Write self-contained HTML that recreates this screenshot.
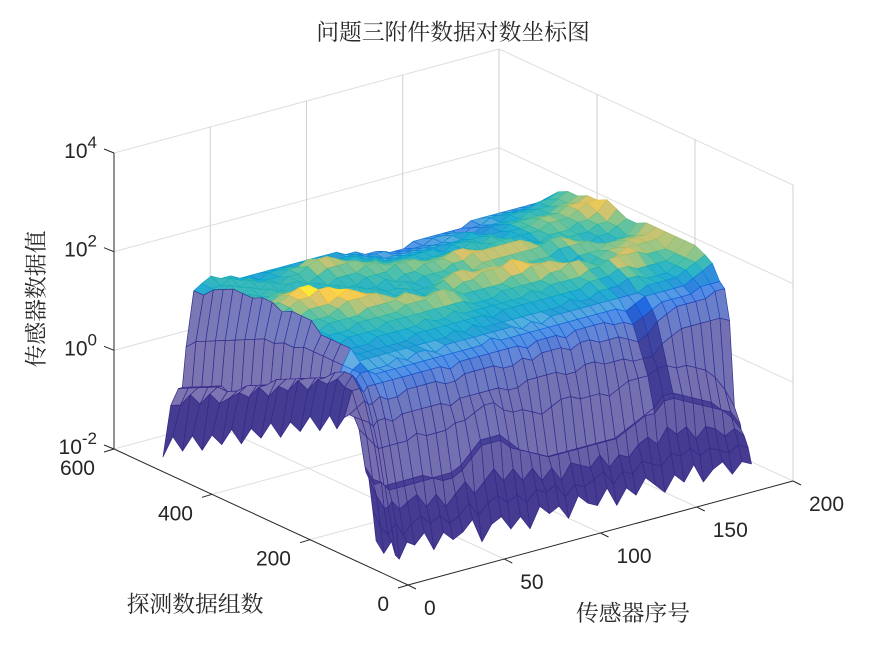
<!DOCTYPE html>
<html lang="zh">
<head>
<meta charset="utf-8">
<title>问题三附件数据对数坐标图</title>
<style>
html,body{margin:0;padding:0;background:#fff;}
svg{display:block;}
text{font-family:"Liberation Sans","Noto Sans CJK SC",sans-serif;fill:#262626;}
.cjk{font-family:"Noto Serif CJK SC","Noto Sans CJK SC",serif;font-size:22.8px;fill:#2a2a2a;}
</style>
</head>
<body>
<svg id="chart" width="875" height="656" viewBox="0 0 875 656" xmlns="http://www.w3.org/2000/svg">
<rect width="875" height="656" fill="#fff"/>
<g id="grid" fill="none" stroke-width="1"></g>
<g id="surface"></g>
<g id="axes" fill="none" stroke="#262626" stroke-width="1"></g>
<g id="labels" font-size="21"></g>
<text class="cjk" x="453" y="40" text-anchor="middle">问题三附件数据对数坐标图</text>
<text class="cjk" x="633" y="621" text-anchor="middle">传感器序号</text>
<text class="cjk" x="195" y="612" text-anchor="middle">探测数据组数</text>
<text class="cjk" x="0" y="0" text-anchor="middle" transform="translate(44,299) rotate(-90)">传感器数据值</text>
</svg>
<script>
// Chart data.
const sensors = [0,4,8,10,12,16,20,25,30,35,40,45,50,55,60,65,70,75,80,85,90,95,100,105,110,115,120,125,130,135,140,145,150,155,160,165,170,175,180,185,190,195];
const groups = [500,480,460,440,420,400,380,360,340,320,300,280,260,240,220,200,180,160,145,130,120,110,100,88,86,80,72,65];
// log10(value) x 10, one row per detection group, one column per sensor
const logZTenths = [
[-17,-7,-4,-4,4,15,16,17,16,16,15,15,15,15,15,15,15,15,15,15,15,14,14,13,13,12,12,12,13,13,13,13,13,13,14,14,14,14,14,14,14,14],
[-12,-6,-3,-3,6,15,16,16,17,16,16,15,16,16,16,15,16,16,16,15,15,15,14,14,14,13,13,13,13,14,14,14,13,14,14,15,15,15,15,15,15,16],
[-14,-3,-2,-2,7,17,16,17,16,17,16,16,16,17,17,18,17,16,16,16,16,15,15,14,14,14,14,14,14,14,15,15,14,15,15,15,16,16,16,17,17,18],
[-10,-4,-1,-1,8,18,17,16,17,16,17,16,17,17,18,19,19,18,17,16,16,16,15,15,15,15,15,15,15,15,15,16,15,16,16,16,16,17,17,17,18,19],
[-12,-1,0,0,9,19,16,17,16,17,16,17,17,16,17,18,18,18,18,17,17,16,16,16,16,16,16,15,16,16,16,16,16,16,17,17,17,17,17,18,18,19],
[-8,-2,0,-1,10,19,17,16,17,17,17,16,16,17,16,17,17,17,18,18,17,17,17,16,16,16,16,16,16,17,16,17,16,17,17,17,18,18,18,19,19,20],
[-9,0,1,0,11,19,17,17,18,18,17,17,16,16,17,16,16,17,17,17,18,18,18,17,17,17,16,17,17,16,17,17,17,17,17,17,18,18,18,19,20,20],
[-5,2,3,2,12,20,17,18,19,20,20,18,17,17,16,17,16,16,17,16,17,17,18,18,18,19,19,18,17,17,17,17,17,17,16,17,17,17,18,18,19,21],
[-7,2,4,3,13,20,17,18,19,19,20,20,19,18,17,16,17,16,16,17,16,17,17,17,18,18,19,19,19,19,19,19,18,17,17,16,17,17,17,18,18,20],
[-3,5,5,4,13,19,16,17,18,18,18,19,20,19,18,17,16,16,17,16,16,16,17,17,16,17,18,18,18,18,18,18,18,19,19,18,17,16,17,17,18,19],
[-4,4,7,6,14,20,16,17,17,17,18,19,19,19,19,18,17,17,16,16,17,18,19,19,18,18,18,17,17,17,17,17,17,18,18,18,18,17,16,17,17,19],
[0,7,8,7,14,20,16,16,17,17,17,17,18,18,18,18,19,18,17,17,17,17,18,18,19,19,19,20,19,18,17,17,17,16,17,17,17,18,18,18,18,20],
[-2,7,9,8,15,20,15,16,16,16,17,17,17,17,17,18,18,18,19,19,18,17,17,17,17,17,18,18,19,19,19,18,17,17,16,17,18,18,19,19,19,20],
[2,10,10,9,15,18,15,15,16,16,16,16,17,17,17,17,17,17,17,17,17,16,16,16,17,17,17,17,17,18,18,19,19,18,17,17,18,19,19,19,19,20],
[1,9,11,10,15,18,15,15,15,15,16,16,16,16,16,17,16,16,17,16,16,16,16,16,16,16,17,16,17,17,17,17,18,18,19,19,19,19,18,18,18,20],
[5,12,12,11,15,18,15,15,15,15,15,15,15,16,16,16,16,16,16,16,16,15,16,16,16,16,16,16,16,16,16,17,17,17,18,18,17,17,17,17,18,20],
[3,12,14,13,15,18,15,15,15,15,15,15,15,15,15,15,16,15,16,15,15,15,15,15,15,15,15,15,16,15,15,16,16,16,17,17,16,16,16,17,18,20],
[7,14,15,14,15,16,14,14,14,15,14,15,15,14,15,15,15,15,15,15,15,15,14,15,14,15,15,15,15,15,15,15,15,15,15,16,16,16,16,17,18,19],
[5,13,15,14,15,15,14,14,14,14,14,14,14,14,14,14,14,14,15,14,14,14,14,14,14,14,14,14,14,14,14,14,13,14,15,15,15,15,15,16,17,18],
[8,13,13,12,13,13,13,13,13,13,13,13,13,12,13,13,13,13,13,13,13,12,13,13,13,12,13,13,13,13,12,12,11,12,13,14,14,14,14,15,15,15],
[9,10,11,10,10,11,10,10,11,11,11,11,10,10,11,11,11,11,10,10,11,10,11,11,11,10,11,11,10,10,10,9,8,9,11,12,13,13,13,13,14,14],
[9,8,7,6,7,7,6,7,7,7,7,7,6,7,7,7,7,7,6,6,7,7,7,7,6,6,7,7,6,6,6,5,5,5,7,8,9,9,9,9,9,8],
[7,5,3,2,2,2,2,2,3,2,2,2,3,3,4,5,5,3,2,2,1,0,1,2,2,1,1,1,0,1,2,2,2,3,3,2,2,1,0,-2,-5,-9],
[0,-3,-4,-5,-5,-5,-5,-5,-5,-6,-6,-6,-5,-3,-1,-1,-1,-3,-5,-6,-7,-8,-8,-8,-8,-8,-8,-8,-8,-7,-6,-5,-4,-2,-2,-3,-4,-5,-6,-8,-9,-12],
[-1,-4,-4,-5,-6,-6,-6,-6,-6,-6,-7,-7,-6,-4,-2,-2,-2,-4,-5,-6,-7,-8,-8,-8,-8,-8,-8,-8,-8,-7,-6,-5,-5,-3,-3,-4,-5,-6,-7,-8,-10,-13],
[-2,-6,-9,-9,-8,-10,-9,-8,-11,-9,-12,-10,-8,-11,-9,-7,-10,-8,-11,-9,-12,-10,-13,-10,-11,-12,-10,-13,-11,-12,-10,-9,-11,-8,-10,-9,-12,-10,-11,-13,-12,-14],
[-8,-12,-14,-13,-12,-15,-13,-12,-14,-13,-15,-14,-12,-15,-13,-12,-14,-13,-15,-13,-14,-13,-16,-14,-15,-14,-13,-16,-14,-15,-13,-14,-15,-13,-14,-13,-15,-14,-15,-16,-15,-16],
[-14,-17,-15,-18,-19,-16,-17,-15,-19,-16,-18,-17,-15,-20,-17,-16,-19,-17,-20,-16,-18,-17,-20,-16,-18,-19,-16,-20,-17,-19,-16,-18,-20,-17,-19,-16,-20,-18,-17,-20,-18,-19]
];
// colour-data multipliers (the mesh colour is a separate input from its height)
const colorGain = [0.05,0.05,0.05,0.05,0.05,0.05,1,1,1,1,1,1,1,1,1,1,1,1,1,1,1,1,1,1,1,1,1,1,1,1,1,1,0.8,0.6,0.8,1,1,0.9,0.9,0.9,0.8,0.7];
const groupColorGain = [1,1,1,1,1,1,1,1,1,1,1,1,1,1,1,1,1,1,0.8,0.6,0.5,0.4,0.4,1,1,1,1,1];
const xTicks = [0,50,100,150,200];
const yTicks = [0,200,400,600];
const zTickExps = [-2,0,2,4];

const X_MAX = 200, Y_MAX = 600, Z_MIN_EXP = -2, Z_MAX_EXP = 4;
const LOW_COLOR_GROUP = 170, COLOR_MAX = 100;
const ORIGIN = [408,585], X_END = [793,481], Y_END = [114,449], Z_SPAN = 296;

function sx(x,y){ return ORIGIN[0] + (X_END[0]-ORIGIN[0])*x/X_MAX + (Y_END[0]-ORIGIN[0])*y/Y_MAX; }
function sy(x,y,e){ return ORIGIN[1] + (X_END[1]-ORIGIN[1])*x/X_MAX + (Y_END[1]-ORIGIN[1])*y/Y_MAX - Z_SPAN*(e-Z_MIN_EXP)/(Z_MAX_EXP-Z_MIN_EXP); }

const parula = [[53,42,135],[15,92,221],[20,129,214],[6,164,202],[46,183,164],[135,191,119],[209,187,89],[254,200,50],[249,251,14]];
function parulaAt(t){
  const p = Math.max(0,Math.min(1,t))*(parula.length-1), i = Math.min(parula.length-2,Math.floor(p)), f = p-i;
  return parula[i].map((c,k)=>c+(parula[i+1][k]-c)*f);
}
function css(c,w){ return 'rgb('+c.map(v=>Math.round(v+(255-v)*w)).join(',')+')'; }

const NS = 'http://www.w3.org/2000/svg';
const gridG = document.getElementById('grid');
const surfaceG = document.getElementById('surface');
const axesG = document.getElementById('axes');
const labelsG = document.getElementById('labels');

function line(parent,x1,y1,x2,y2,color,name){
  const l = document.createElementNS(NS,'line');
  
  
  l.setAttribute('x1',x1); l.setAttribute('y1',y1); l.setAttribute('x2',x2); l.setAttribute('y2',y2);
  if(color) l.setAttribute('stroke',color);
  parent.appendChild(l);
}
const GRID = '#dedede', GRID_V = '#cfcfcf';
zTickExps.forEach(e=>{
  line(gridG,sx(0,Y_MAX),sy(0,Y_MAX,e),sx(X_MAX,Y_MAX),sy(X_MAX,Y_MAX,e),GRID,'back-wall-gridline');
  line(gridG,sx(X_MAX,Y_MAX),sy(X_MAX,Y_MAX,e),sx(X_MAX,0),sy(X_MAX,0,e),GRID,'side-wall-gridline');
});
xTicks.forEach(x=>{
  if(x>0) line(gridG,sx(x,Y_MAX),sy(x,Y_MAX,Z_MIN_EXP),sx(x,Y_MAX),sy(x,Y_MAX,Z_MAX_EXP),GRID_V,'x-wall-gridline');
  if(x>0 && x<X_MAX) line(gridG,sx(x,0),sy(x,0,Z_MIN_EXP),sx(x,Y_MAX),sy(x,Y_MAX,Z_MIN_EXP),GRID,'x-floor-gridline');
});
yTicks.forEach(y=>{
  line(gridG,sx(X_MAX,y),sy(X_MAX,y,Z_MIN_EXP),sx(X_MAX,y),sy(X_MAX,y,Z_MAX_EXP),GRID_V,'y-wall-gridline');
  if(y>0 && y<Y_MAX) line(gridG,sx(0,y),sy(0,y,Z_MIN_EXP),sx(X_MAX,y),sy(X_MAX,y,Z_MIN_EXP),GRID,'y-floor-gridline');
});

function whiteFor(r,c,tenths){
  const g0 = groups[r], g1 = groups[r+1], s = sensors[c];
  if(g1<=72) return 0.08;
  if(g0===80) return 0.1;
  if(g0===86) return 0.25;
  if(g0===88) return (s<=100||s>=150) ? 0.1 : 0.3;
  if(s===0 && g0>=145) return 0.08;
  if(s===8 && g0<=400 && g0>=145) return 0.05;
  if((s===150||s===155) && g0<=145) return 0.08;
  if(s<16 && g0>=LOW_COLOR_GROUP) return 0.35;
  if(tenths<12) return 0.32;
  if(tenths<15) return 0.28;
  return 0.12;
}

// Mesh: painted back to front so nearer cells hide farther ones.
for(let r=0;r<groups.length-1;r++){
  for(let c=sensors.length-2;c>=0;c--){
    const corners = [[r,c],[r,c+1],[r+1,c+1],[r+1,c]];
    let d = '', mean = 0, tenths = 0, gain = 0, rowG = 0;
    corners.forEach((q,k)=>{
      const e = logZTenths[q[0]][q[1]]/10;
      const g = (groups[q[0]]>=LOW_COLOR_GROUP || sensors[q[1]]<10) ? colorGain[q[1]] : Math.max(colorGain[q[1]],0.6);
      gain = Math.max(gain,g);
      rowG += groupColorGain[q[0]]/4;
      d += (k?'L':'M')+sx(sensors[q[1]],groups[q[0]]).toFixed(1)+' '+sy(sensors[q[1]],groups[q[0]],e).toFixed(1);
      mean += Math.pow(10,e)/4;
      tenths += e*10/4;
    });
    const rgb = parulaAt(mean*gain*rowG/COLOR_MAX);
    const cell = document.createElementNS(NS,'path');
    
    
    cell.setAttribute('d', d+'Z');
    cell.setAttribute('fill', css(rgb,whiteFor(r,c,tenths)));
    cell.setAttribute('stroke', css(rgb,0));
    cell.setAttribute('stroke-width', '0.7');
    cell.setAttribute('stroke-linejoin', 'round');
    surfaceG.appendChild(cell);
  }
}

// Axes, ticks and labels
line(axesG,sx(0,0),sy(0,0,Z_MIN_EXP),sx(X_MAX,0),sy(X_MAX,0,Z_MIN_EXP),null,'x-axis-line');
line(axesG,sx(0,0),sy(0,0,Z_MIN_EXP),sx(0,Y_MAX),sy(0,Y_MAX,Z_MIN_EXP),null,'y-axis-line');
line(axesG,sx(0,Y_MAX),sy(0,Y_MAX,Z_MIN_EXP),sx(0,Y_MAX),sy(0,Y_MAX,Z_MAX_EXP),null,'z-axis-line');
function label(x,y,txt,anchor,name){
  const t = document.createElementNS(NS,'text');
  
  
  t.setAttribute('x',x); t.setAttribute('y',y); t.setAttribute('text-anchor',anchor);
  t.textContent = txt;
  labelsG.appendChild(t);
  return t;
}
xTicks.forEach(x=>{
  const px = sx(x,0), py = sy(x,0,Z_MIN_EXP);
  line(axesG,px,py,px+8,py+4,null,'x-tick');
  label(px+16,py+30,String(x),'start','x-tick-label');
});
yTicks.forEach(y=>{
  const px = sx(0,y), py = sy(0,y,Z_MIN_EXP);
  line(axesG,px,py,px-10,py+3,null,'y-tick');
  label(px-19,py+26,String(y),'end','y-tick-label');
});
zTickExps.forEach(e=>{
  const px = sx(0,Y_MAX), py = sy(0,Y_MAX,e);
  line(axesG,px,py,px-10,py-4,null,'z-tick');
  const t = label(97,py+5,'10','end','z-tick-label');
  const sup = document.createElementNS(NS,'tspan');
  
  
  sup.setAttribute('dy','-10');
  sup.setAttribute('font-size','17');
  sup.textContent = String(e);
  t.appendChild(sup);
});
</script>
</body>
</html>
